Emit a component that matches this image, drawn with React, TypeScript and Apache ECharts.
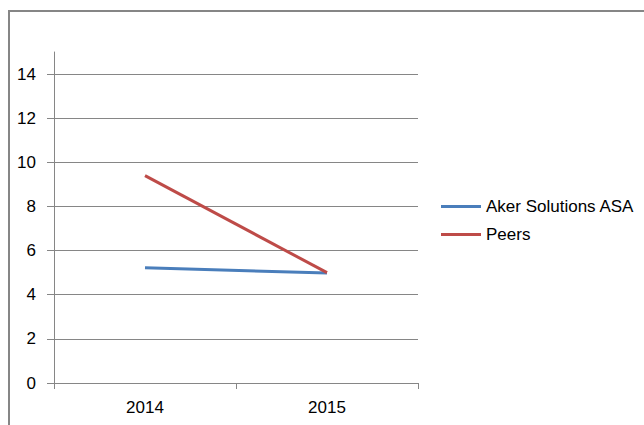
import React, { useEffect, useRef } from "react";
import * as echarts from "echarts";

const categories = ["2014", "2015"];
const akerValues = [5.22, 4.98];
const peersValues = [9.4, 5.0];
const yTicks = [0, 2, 4, 6, 8, 10, 12, 14];

const FONT = "'Liberation Sans', Arial, sans-serif";
const GRAY = "#868686";

export default function App() {
  const ref = useRef<HTMLDivElement>(null);
  useEffect(() => {
    if (!ref.current) return;
    const chart = echarts.init(ref.current, undefined, { renderer: "svg" });
    chart.setOption({
      animation: false,
      backgroundColor: "transparent",
      textStyle: { fontFamily: FONT },
      grid: { left: 54, right: 226, top: 52, bottom: 42 },
      legend: {
        orient: "vertical",
        left: 436,
        top: 193,
        icon: "rect",
        itemWidth: 40,
        itemHeight: 3,
        itemGap: 11,
        textStyle: { fontFamily: FONT, fontSize: 17, color: "#000" },
        data: ["Aker Solutions ASA", "Peers"],
      },
      xAxis: {
        type: "category",
        data: categories,
        boundaryGap: true,
        axisLine: { show: true, lineStyle: { color: GRAY, width: 1 } },
        axisTick: { show: true, length: 6, alignWithLabel: false, lineStyle: { color: GRAY } },
        axisLabel: { fontFamily: FONT, fontSize: 17, color: "#000", margin: 16 },
        splitLine: { show: false },
      },
      yAxis: {
        type: "value",
        min: 0,
        max: 15,
        interval: 2,
        axisLine: { show: true, lineStyle: { color: GRAY, width: 1 } },
        axisTick: { show: true, inside: false, length: 7, lineStyle: { color: GRAY }, customValues: yTicks },
        axisLabel: {
          fontFamily: FONT,
          fontSize: 17,
          color: "#000",
          margin: 18,
          customValues: yTicks,
        },
        splitLine: { show: true, lineStyle: { color: GRAY, width: 1 } },
      },
      series: [
        {
          name: "Aker Solutions ASA",
          type: "line",
          data: akerValues,
          symbol: "none",
          lineStyle: { color: "#4A7EBB", width: 3 },
          itemStyle: { color: "#4A7EBB" },
        },
        {
          name: "Peers",
          type: "line",
          data: peersValues,
          symbol: "none",
          lineStyle: { color: "#BE4B48", width: 3 },
          itemStyle: { color: "#BE4B48" },
        },
      ],
    });
    return () => chart.dispose();
  }, []);

  return (
    <div
      style={{
        position: "absolute",
        left: 0,
        top: 0,
        width: 644,
        height: 425,
        overflow: "hidden",
        background: "#fff",
      }}
    >
      <div
        style={{
          position: "absolute",
          left: 8,
          top: 10,
          width: 700,
          height: 500,
          border: `2px solid ${GRAY}`,
          boxSizing: "border-box",
        }}
      />
      <div ref={ref} style={{ position: "absolute", left: 0, top: 0, width: 644, height: 425 }} />
    </div>
  );
}
